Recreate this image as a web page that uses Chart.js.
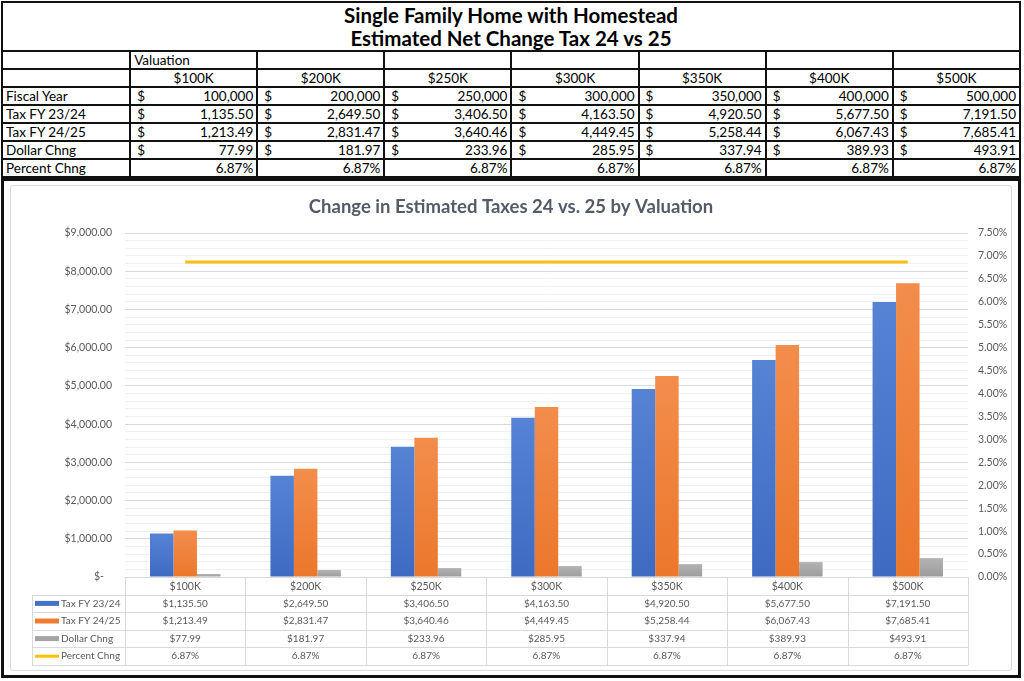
<!DOCTYPE html>
<html>
<head>
<meta charset="utf-8">
<script src="https://cdn.jsdelivr.net/npm/chart.js@4.4.1/dist/chart.umd.min.js"></script>
<style>
  body { margin: 0; background: #fff; font-family: Lato, "Open Sans", sans-serif; }
  #page { position: relative; width: 1024px; height: 681px; overflow: hidden; background: #fff; }
  #sheet { position: absolute; left: 1px; top: 1px; width: 1020px; border-collapse: collapse; table-layout: fixed; }
  #sheet td { border: 2px solid #111; font-size: 13.5px; color: #000; padding: 0 3px; height: 16px; line-height: 16px; white-space: nowrap; overflow: hidden; }
  #sheet td.title { height: 47px; font-size: 20.5px; font-weight: bold; text-align: center; line-height: 23px; }
  #sheet td.num { text-align: right; }
  #sheet td.c { text-align: center; }
  #sheet td .d { float: left; padding-left: 3px; }
  #frame { position: absolute; left: 1px; top: 178px; width: 1020px; height: 500px; box-sizing: border-box; border: 3px solid #111; }
  #panel { position: absolute; left: 10px; top: 185px; width: 1002px; height: 486px; box-sizing: border-box; border: 1px solid #D9D9D9; border-radius: 3px; }
  #wrap { position: absolute; left: 10px; top: 185px; width: 1002px; height: 486px; }
</style>
</head>
<body>
<div id="page">
  <table id="sheet"></table>
  <div id="frame"></div>
  <div id="panel"></div>
  <div id="wrap"><canvas id="chart"></canvas></div>
</div>
<script>
const labels = ["$100K", "$200K", "$250K", "$300K", "$350K", "$400K", "$500K"]
const fiscalYear = [100000, 200000, 250000, 300000, 350000, 400000, 500000]
const tax2324 = [1135.50, 2649.50, 3406.50, 4163.50, 4920.50, 5677.50, 7191.50]
const tax2425 = [1213.49, 2831.47, 3640.46, 4449.45, 5258.44, 6067.43, 7685.41]
const dollarChng = [77.99, 181.97, 233.96, 285.95, 337.94, 389.93, 493.91]
const percentChng = [0.0687, 0.0687, 0.0687, 0.0687, 0.0687, 0.0687, 0.0687]

const money = v => v.toLocaleString("en-US", { minimumFractionDigits: 2, maximumFractionDigits: 2 })
const whole = v => v.toLocaleString("en-US")
const pct = v => (v * 100).toFixed(2) + "%"

// top spreadsheet table
const sheet = document.getElementById("sheet")
let html = '<colgroup><col style="width:128px">' + labels.map(() => '<col style="width:127px">').join("") + '</colgroup>'
html += '<tr><td class="title" colspan="8">Single Family Home with Homestead<br>Estimated Net Change Tax 24 vs 25</td></tr>'
html += '<tr><td></td><td>Valuation</td>' + labels.slice(1).map(() => '<td></td>').join("") + '</tr>'
html += '<tr><td></td>' + labels.map(l => `<td class="c">${l}</td>`).join("") + '</tr>'
const dollarRow = (name, arr, f) =>
    `<tr><td>${name}</td>` + arr.map(v => `<td class="num"><span class="d">$</span>${f(v)}</td>`).join("") + '</tr>'
html += dollarRow("Fiscal Year", fiscalYear, whole)
html += dollarRow("Tax FY 23/24", tax2324, money)
html += dollarRow("Tax FY 24/25", tax2425, money)
html += dollarRow("Dollar Chng", dollarChng, money)
html += '<tr><td>Percent Chng</td>' + percentChng.map(v => `<td class="num">${pct(v)}</td>`).join("") + '</tr>'
sheet.innerHTML = html

Chart.defaults.font.family = "Lato, 'Open Sans', sans-serif"
Chart.defaults.color = "#595959"

const gridGray = "#D9D9D9"
const rowH = 17.6

// bars get a light top-to-bottom shade like the Excel style
function shade(light, dark) {
    return c => {
        const chart = c.chart
        const y = chart.scales.y
        if (!chart.chartArea || !y || c.raw === undefined) return dark
        const g = chart.ctx.createLinearGradient(0, y.getPixelForValue(c.raw), 0, y.getPixelForValue(0))
        g.addColorStop(0, light)
        g.addColorStop(1, dark)
        return g
    }
}

// Excel-style data table under the plot, lined up on the x scale
const dataTable = {
    id: "dataTable",
    afterDraw(chart) {
        const { ctx, chartArea, scales } = chart
        const x = scales.x
        const colW = (chartArea.right - chartArea.left) / labels.length
        const keyLeft = 22
        const t = chartArea.bottom
        ctx.save()
        ctx.strokeStyle = gridGray
        ctx.lineWidth = 1
        const line = (x1, y1, x2, y2) => {
            ctx.beginPath(); ctx.moveTo(x1, y1); ctx.lineTo(x2, y2); ctx.stroke()
        }
        for (let r = 1; r <= 5; r++) {
            const y = Math.round(t + r * rowH) + 0.5
            line(keyLeft, y, chartArea.right, y)
        }
        for (let i = 0; i <= labels.length; i++) {
            const xx = Math.round(chartArea.left + i * colW) + 0.5
            line(xx, t, xx, t + 5 * rowH)
        }
        line(keyLeft + 0.5, t + rowH, keyLeft + 0.5, t + 5 * rowH)

        ctx.font = "10px Lato, 'Open Sans', sans-serif"
        ctx.textBaseline = "middle"
        chart.data.datasets.forEach((ds, r) => {
            const cy = t + (r + 1.5) * rowH
            ctx.fillStyle = "#595959"
            ctx.textAlign = "center"
            ds.data.forEach((v, i) => {
                ctx.fillText(r < 3 ? "$" + money(v) : pct(v), x.getPixelForValue(i), cy)
            })
            // legend key
            ctx.fillStyle = ds.keyColor
            if (ds.type === "line") {
                ctx.fillRect(keyLeft + 3, cy - 1.5, 24, 3)
            } else {
                ctx.fillRect(keyLeft + 3, cy - 2.5, 24, 5)
            }
            ctx.fillStyle = "#595959"
            ctx.textAlign = "left"
            ctx.fillText(ds.label, keyLeft + 29, cy)
        })
        ctx.restore()
    }
}

new Chart(document.getElementById("chart"), {
    type: "bar",
    data: {
        labels: labels,
        datasets: [
            { label: "Tax FY 23/24", data: tax2324, keyColor: "#4472C4", backgroundColor: shade("#5683D4", "#3E6AC2"), yAxisID: "y", order: 1 },
            { label: "Tax FY 24/25", data: tax2425, keyColor: "#ED7D31", backgroundColor: shade("#F38D4C", "#EB772B"), yAxisID: "y", order: 1 },
            { label: "Dollar Chng", data: dollarChng, keyColor: "#A5A5A5", backgroundColor: shade("#B3B3B3", "#9C9C9C"), yAxisID: "y", order: 1 },
            {
                label: "Percent Chng", type: "line", data: percentChng, yAxisID: "y2", order: 0,
                keyColor: "#FFC000", borderColor: "#F8BE12", borderWidth: 3, pointRadius: 0, fill: false
            }
        ]
    },
    options: {
        responsive: true,
        maintainAspectRatio: false,
        animation: false,
        datasets: { bar: { categoryPercentage: 0.585, barPercentage: 1 } },
        layout: { padding: 0 },
        plugins: {
            legend: { display: false },
            tooltip: { enabled: false },
            title: {
                display: true,
                text: "Change in Estimated Taxes 24 vs. 25 by Valuation",
                color: "#545A66",
                font: { size: 18.5, weight: "bold" },
                padding: { top: 11, bottom: 14.8 }
            }
        },
        scales: {
            x: {
                grid: { display: false, drawTicks: false },
                border: { color: gridGray },
                ticks: { font: { size: 10.5 }, padding: 3, maxRotation: 0 },
                afterFit(s) { s.height = 94 }
            },
            y: {
                position: "left",
                min: 0, max: 9000,
                ticks: {
                    stepSize: 1000, padding: 13, font: { size: 10.5 },
                    callback: v => v === 0 ? "$-   " : "$" + money(v)
                },
                grid: { color: gridGray, drawTicks: false },
                border: { display: false },
                afterFit(s) { s.width = 115 }
            },
            yMinor: {
                position: "left",
                min: 0, max: 9000,
                ticks: { display: false, stepSize: 200, maxTicksLimit: 100 },
                grid: {
                    drawTicks: false,
                    color: c => c.tick.value % 1000 === 0 ? "rgba(0,0,0,0)" : "#F0F0F0"
                },
                border: { display: false },
                afterFit(s) { s.width = 0 }
            },
            y2: {
                position: "right",
                min: 0, max: 0.075,
                ticks: { stepSize: 0.005, padding: 10, font: { size: 10.5 }, callback: v => pct(v) },
                grid: { display: false, drawTicks: false },
                border: { display: false },
                afterFit(s) { s.width = 44 }
            }
        }
    },
    plugins: [dataTable]
})
</script>
</body>
</html>
